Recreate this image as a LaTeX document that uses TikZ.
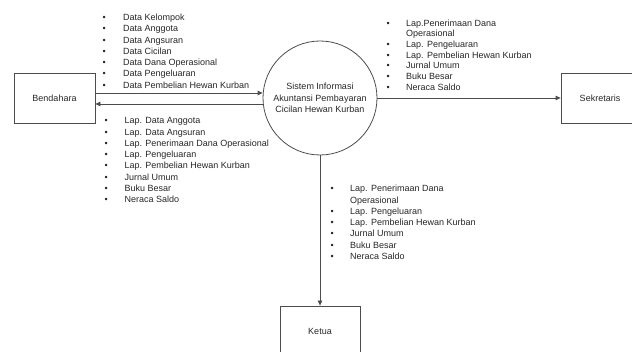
\documentclass[tikz,border=0pt]{standalone}
\usepackage{fontspec}
\setmainfont{Liberation Sans}
\usetikzlibrary{arrows.meta}
\newcommand{\dfdfont}{\fontsize{9}{11.3}\selectfont}
\newcommand{\flowlist}[2]{%
    \begin{tabular}{@{}p{#1}@{}l@{}}#2\end{tabular}%
}
\tikzset{
    entity/.style={draw=black!70,line width=0.8pt,minimum width=81pt,
        minimum height=50pt,font=\dfdfont,text=black!85},
    process/.style={circle,draw=black!70,line width=0.8pt,minimum size=114pt,
        align=center,font=\dfdfont,text=black!85},
    flow/.style={draw=black!70,line width=0.8pt,-{Triangle[length=5pt,width=4.5pt]}},
    flowtext/.style={anchor=north west,inner sep=0pt,font=\dfdfont,text=black!85}
}

\begin{document}
\begin{tikzpicture}[x=1pt,y=1pt]

% page frame, the right and bottom boxes run past it
\useasboundingbox (0,0) rectangle (632,352);
\clip (0,0) rectangle (632,352);

% external entities
\node [entity] (bendahara) at (54.5,254) {Bendahara};
\node [entity,minimum width=78pt] (sekretaris) at (600,253.5) {Sekretaris};
\node [entity,minimum width=80pt] (ketua) at (320,21) {Ketua};

% process
\node [process] (sistem) at (320,254)
    {Sistem Informasi\\Akuntansi Pembayaran\\Cicilan Hewan Kurban};

% data flows
\draw [flow] ([yshift=5pt]bendahara.east) -- ([yshift=5pt]bendahara.east -| sistem.west);
\draw [flow] ([yshift=-6pt]bendahara.east -| sistem.west) -- ([yshift=-6pt]bendahara.east);
\draw [flow] (sistem.east) -- (sistem.east -| sekretaris.west);
\draw [flow] (sistem.south) -- (ketua.north);

% flow labels
\node [flowtext] (datamasuk) at (102.4,339.7) {\flowlist{20.6pt}{%
    \textbullet & Data Kelompok\\
    \textbullet & Data Anggota\\
    \textbullet & Data Angsuran\\
    \textbullet & Data Cicilan\\
    \textbullet & Data Dana Operasional\\
    \textbullet & Data Pengeluaran\\
    \textbullet & Data Pembelian Hewan Kurban}};
\node [flowtext] (lapbendahara) at (104.4,236.4) {\flowlist{20pt}{%
    \textbullet & Lap. Data Anggota\\
    \textbullet & Lap. Data Angsuran\\
    \textbullet & Lap. Penerimaan Dana Operasional\\
    \textbullet & Lap. Pengeluaran\\
    \textbullet & Lap. Pembelian Hewan Kurban\\
    \textbullet & Jurnal Umum\\
    \textbullet & Buku Besar\\
    \textbullet & Neraca Saldo}};
\node [flowtext] (lapsekretaris) at (386.4,333.7) {\renewcommand{\arraystretch}{0.95}%
    \flowlist{19.6pt}{%
    \textbullet & Lap.Penerimaan Dana\\
                & Operasional\\
    \textbullet & Lap. Pengeluaran\\
    \textbullet & Lap. Pembelian Hewan Kurban\\
    \textbullet & Jurnal Umum\\
    \textbullet & Buku Besar\\
    \textbullet & Neraca Saldo}};
\node [flowtext] (lapketua) at (330.4,168.4) {\flowlist{19.6pt}{%
    \textbullet & Lap. Penerimaan Dana\\
                & Operasional\\
    \textbullet & Lap. Pengeluaran\\
    \textbullet & Lap. Pembelian Hewan Kurban\\
    \textbullet & Jurnal Umum\\
    \textbullet & Buku Besar\\
    \textbullet & Neraca Saldo}};

\end{tikzpicture}
\end{document}
